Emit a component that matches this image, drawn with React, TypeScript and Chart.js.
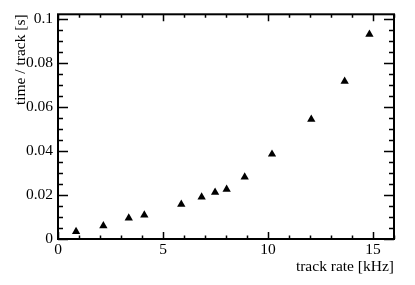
import React, { useEffect, useRef } from "react";
import { Chart, registerables } from "chart.js";

Chart.register(...registerables);

const trackRate = [0.86, 2.16, 3.37, 4.11, 5.87, 6.84, 7.48, 8.03, 8.89, 10.19, 12.06, 13.65, 14.83];
const timePerTrack = [0.0034, 0.006, 0.0095, 0.0109, 0.0158, 0.0191, 0.0212, 0.0226, 0.0282, 0.0386, 0.0545, 0.0718, 0.0932];

const xTickValues = [0, 5, 10, 15];
const xTickLabels = ["0", "5", "10", "15"];
const yTickValues = [0, 0.02, 0.04, 0.06, 0.08, 0.1];
const yTickLabels = ["0", "0.02", "0.04", "0.06", "0.08", "0.1"];
const xMinorStep = 1;
const yMinorStep = 0.005;
const xRange = [0, 16];
const yRange = [0, 0.10227];

const FONT = "'Liberation Serif', 'Times New Roman', serif";
const FS = 15.5;

const framePlugin = {
  id: "rootFrame",
  afterDraw(chart: any) {
    const { ctx, chartArea } = chart;
    const { left, right, top, bottom } = chartArea;
    const xs = chart.scales.x;
    const ys = chart.scales.y;
    ctx.save();
    ctx.strokeStyle = "#000";
    ctx.lineWidth = 1.5;
    ctx.beginPath();
    for (let v = xRange[0]; v <= xRange[1] + 1e-9; v += xMinorStep) {
      const px = Math.round(xs.getPixelForValue(v)) + 0.5;
      const major = xTickValues.some((t) => Math.abs(t - v) < 1e-9);
      const len = major ? 7 : 3.5;
      ctx.moveTo(px, bottom);
      ctx.lineTo(px, bottom - len);
      ctx.moveTo(px, top);
      ctx.lineTo(px, top + len);
    }
    for (let i = 0; ; i++) {
      const v = yRange[0] + i * yMinorStep;
      if (v > yRange[1] + 1e-12) break;
      const py = Math.round(ys.getPixelForValue(v)) + 0.5;
      const major = yTickValues.some((t) => Math.abs(t - v) < 1e-9);
      const len = major ? 10 : 5;
      ctx.moveTo(left, py);
      ctx.lineTo(left + len, py);
      ctx.moveTo(right, py);
      ctx.lineTo(right - len, py);
    }
    ctx.stroke();
    ctx.lineWidth = 2;
    ctx.strokeRect(left, top, right - left, bottom - top);
    ctx.restore();
  },
};

export default function App() {
  const ref = useRef<HTMLCanvasElement>(null);
  useEffect(() => {
    if (!ref.current) return;
    const chart = new Chart(ref.current, {
      type: "scatter",
      data: {
        datasets: [
          {
            data: trackRate.map((x, i) => ({ x, y: timePerTrack[i] })),
            pointStyle: "triangle",
            pointRadius: 4.8,
            pointHoverRadius: 4.8,
            backgroundColor: "#000",
            borderColor: "#000",
            borderWidth: 0,
          },
        ],
      },
      options: {
        responsive: false,
        animation: false,
        events: [],
        layout: { padding: { left: 0, top: 14, right: 21, bottom: 0 } },
        plugins: { legend: { display: false }, tooltip: { enabled: false } },
        scales: {
          x: {
            type: "linear",
            min: xRange[0],
            max: xRange[1],
            grid: { display: false, drawTicks: false },
            border: { display: false },
            afterBuildTicks: (s: any) => {
              s.ticks = xTickValues.map((v) => ({ value: v }));
            },
            afterFit: (s: any) => {
              s.height = 46;
            },
            ticks: {
              autoSkip: false,
              maxRotation: 0,
              padding: 2,
              color: "#000",
              font: { family: FONT, size: FS },
              callback: (_v: any, i: number) => xTickLabels[i],
            },
            title: {
              display: true,
              text: "track rate [kHz]",
              align: "end",
              color: "#000",
              font: { family: FONT, size: FS },
              padding: { top: 0, bottom: 9 },
            },
          },
          y: {
            type: "linear",
            min: yRange[0],
            max: yRange[1],
            grid: { display: false, drawTicks: false },
            border: { display: false },
            afterBuildTicks: (s: any) => {
              s.ticks = yTickValues.map((v) => ({ value: v }));
            },
            afterFit: (s: any) => {
              s.width = 58;
            },
            ticks: {
              autoSkip: false,
              padding: 5,
              color: "#000",
              font: { family: FONT, size: FS },
              callback: (_v: any, i: number) => yTickLabels[i],
            },
            title: {
              display: true,
              text: "time / track [s]",
              align: "end",
              color: "#000",
              font: { family: FONT, size: FS },
              padding: { top: 12, bottom: 0 },
            },
          },
        },
      },
      plugins: [framePlugin],
    });
    return () => chart.destroy();
  }, []);
  return (
    <canvas
      ref={ref}
      width={415}
      height={285}
      style={{ position: "fixed", left: 0, top: 0, width: 415, height: 285, background: "#fff" }}
    />
  );
}
